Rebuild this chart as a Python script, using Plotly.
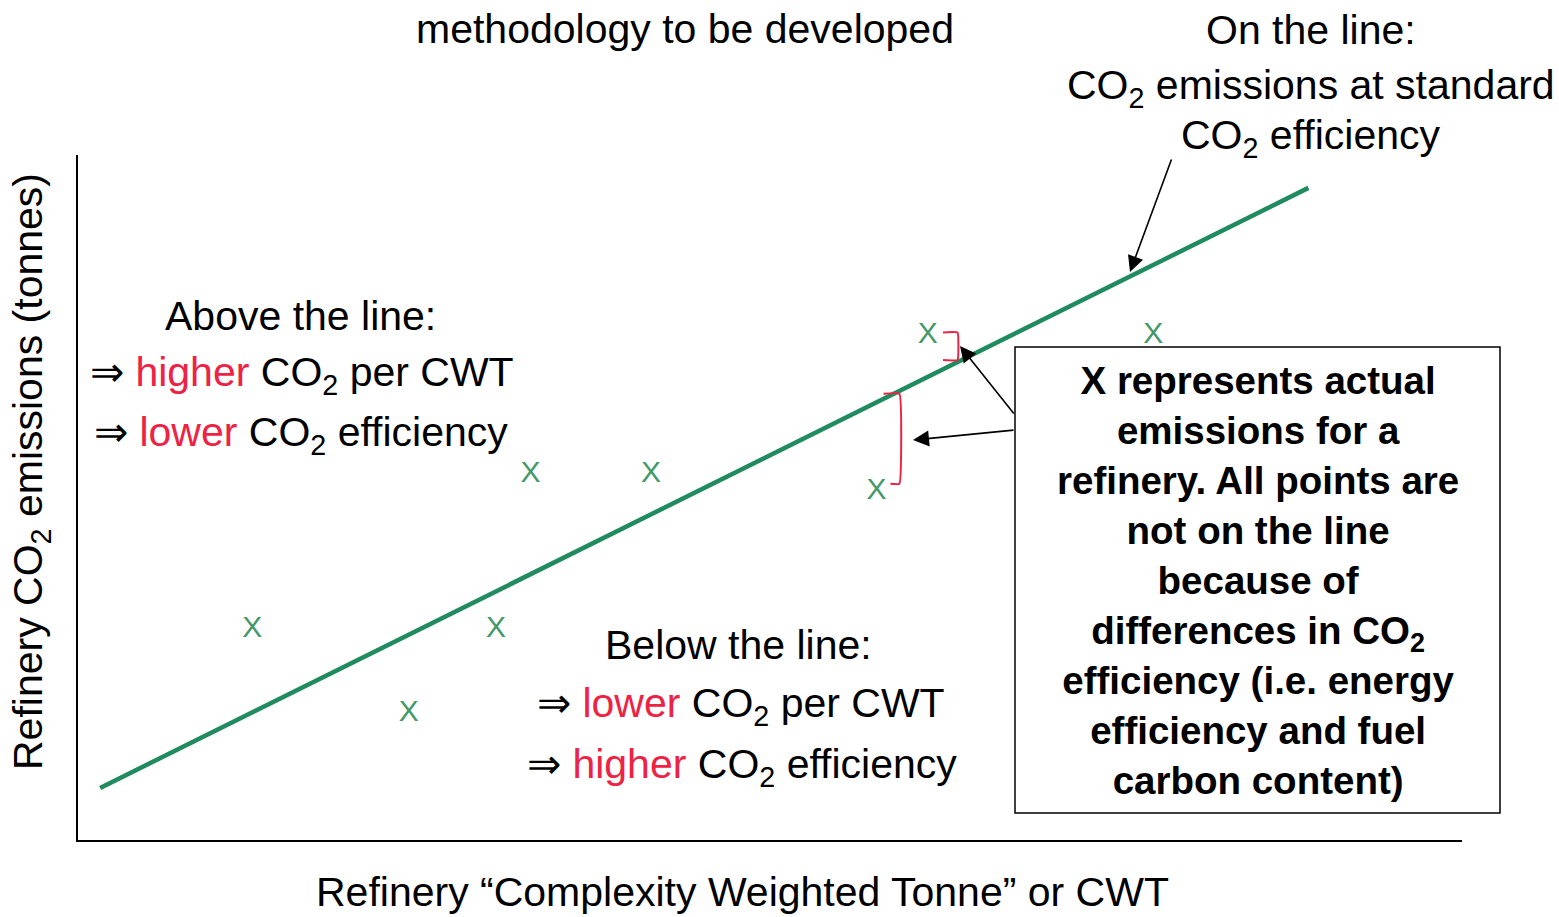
import plotly.graph_objects as go

# standard-efficiency line (CWT vs CO2, arbitrary units 0-100)
line_cwt = [1.6, 88.9]
line_co2 = [7.6, 95.2]

# actual refineries ("X" marks)
refinery_cwt = [12.6, 23.9, 30.2, 32.7, 41.4, 57.7, 61.4, 77.7]
refinery_co2 = [30.8, 18.4, 30.8, 53.4, 53.4, 50.9, 73.6, 73.7]

# refineries whose gap to the line is marked with a red bracket
bracket_idx = [5, 6]

W, H = 1559, 917
L, R, T, B = 78, 97, 155, 77
PW, PH = W - L - R, H - T - B

FONT = "Liberation Sans, Arial, sans-serif"
GREEN_LINE = "#1f8b5e"
GREEN_X = "#43996a"
RED = "#ee2244"
SIZE = 41


def px(x):
    return (x - L) / PW


def py(y):
    return (H - B - y) / PH


def line_at(x):
    k = (line_co2[1] - line_co2[0]) / (line_cwt[1] - line_cwt[0])
    return line_co2[0] + k * (x - line_cwt[0])


fig = go.Figure()

fig.add_trace(go.Scatter(
    x=line_cwt, y=line_co2, mode="lines",
    line=dict(color=GREEN_LINE, width=4.5), hoverinfo="skip"
))

fig.add_trace(go.Scatter(
    x=refinery_cwt, y=refinery_co2, mode="text", text=["X"] * len(refinery_cwt),
    textfont=dict(family=FONT, size=30, color=GREEN_X), hoverinfo="skip"
))

# red brackets between the point and the line
offsets = {5: (0.5, 1.65), 6: (1.1, 2.15)}
for i in bracket_idx:
    x0 = refinery_cwt[i]
    h0, h1 = offsets[i]
    ly = line_at(x0 + h1)
    if refinery_co2[i] > ly:
        top, bot = refinery_co2[i] + 0.5, ly + 0.3
    else:
        top, bot = ly - 0.4, refinery_co2[i] + 1.1
    fig.add_trace(go.Scatter(
        x=[x0 + h0, x0 + h1, x0 + h1, x0 + h0 + (0.5 if i == 5 else 0)],
        y=[top, top, bot, bot], mode="lines",
        line=dict(color=RED, width=2, shape="spline", smoothing=0.3), hoverinfo="skip"
    ))

anns = []


def txt(x, y, s, size=SIZE, anchor="center", bold=False):
    if bold:
        s = "<b>" + s + "</b>"
    anns.append(dict(
        x=px(x), y=py(y), xref="paper", yref="paper", text=s, showarrow=False,
        xanchor=anchor, yanchor="middle", align="center",
        font=dict(family=FONT, size=size, color="black")
    ))


def arrow(x0, y0, x1, y1):
    # tail (x0, y0) -> head (x1, y1), pixel positions
    anns.append(dict(
        x=px(x1), y=py(y1), xref="paper", yref="paper", ax=x0 - x1, ay=y0 - y1,
        text="", showarrow=True, arrowhead=2, arrowsize=2, arrowwidth=1.6,
        arrowcolor="black"
    ))


red = lambda s: f"<span style='color:{RED}'>{s}</span>"
CO2 = "CO<sub>2</sub>"

txt(685, 29, "methodology to be developed")
txt(1311, 30, "On the line:")
txt(1311, 88, f"{CO2} emissions at standard")
txt(1311, 138, f"{CO2} efficiency")

txt(300, 316, "Above the line:")
txt(88, 375, f"⇒ {red('higher')} {CO2} per CWT", anchor="left")
txt(92, 435, f"⇒ {red('lower')} {CO2} efficiency", anchor="left")

txt(738, 645, "Below the line:")
txt(535, 706, f"⇒ {red('lower')} {CO2} per CWT", anchor="left")
txt(525, 767, f"⇒ {red('higher')} {CO2} efficiency", anchor="left")

txt(1258, 580,
    "X represents actual<br>emissions for a<br>refinery. All points are<br>"
    "not on the line<br>because of<br>differences in CO<sub>2</sub><br>"
    "efficiency (i.e. energy<br>efficiency and fuel<br>carbon content)",
    size=38.5, bold=True)

txt(742, 892, "Refinery “Complexity Weighted Tonne” or CWT")
anns.append(dict(
    x=px(31), y=py(472), xref="paper", yref="paper",
    text=f"Refinery {CO2} emissions (tonnes)", showarrow=False, textangle=-90,
    xanchor="center", yanchor="middle", font=dict(family=FONT, size=SIZE, color="black")
))

arrow(1015, 415, 960, 346)
arrow(1015, 430, 913, 440)
arrow(1172, 158, 1130, 272)

fig.update_layout(
    width=W, height=H,
    margin=dict(l=L, r=R, t=T, b=B),
    paper_bgcolor="white", plot_bgcolor="white",
    showlegend=False,
    annotations=anns,
    shapes=[dict(
        type="rect", xref="paper", yref="paper",
        x0=px(1015), x1=px(1500), y0=py(813), y1=py(347),
        line=dict(color="black", width=1.5), fillcolor="white", layer="above"
    )],
    xaxis=dict(range=[0, 100], showline=True, linecolor="black", linewidth=2,
               showgrid=False, zeroline=False, showticklabels=False, ticks=""),
    yaxis=dict(range=[0, 100], showline=True, linecolor="black", linewidth=2,
               showgrid=False, zeroline=False, showticklabels=False, ticks=""),
)

# drop the browser's default 8px body margin so the figure fills the window
fig.write_html("out.html", config={"displayModeBar": False},
               post_script="document.body.style.margin='0px';")
